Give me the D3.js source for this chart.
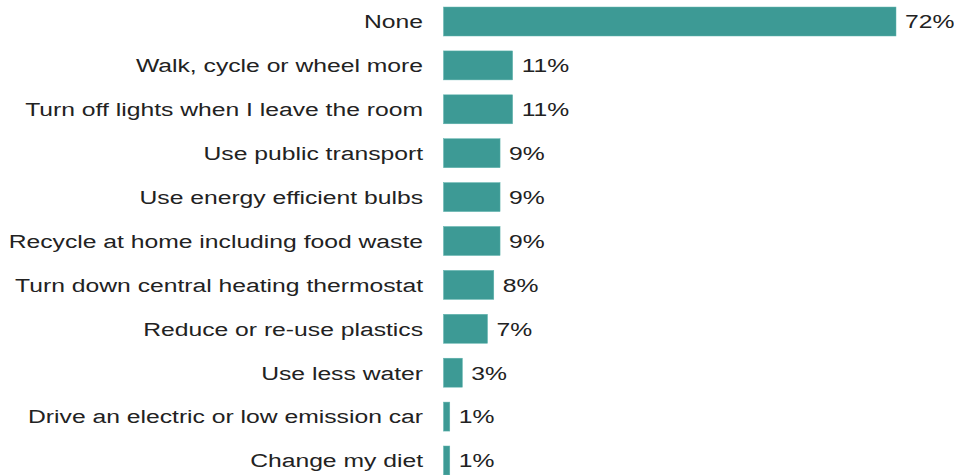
<!DOCTYPE html>
<html>
<head>
<meta charset="utf-8">
<script src="https://cdn.jsdelivr.net/npm/d3@7"></script>
<style>
  html, body { margin: 0; padding: 0; background: #fff; }
  svg { display: block; }
</style>
</head>
<body>
<svg id="chart" width="954" height="475"></svg>
<script>
// Actions taken, share of respondents (%)
const categories = [
  "None",
  "Walk, cycle or wheel more",
  "Turn off lights when I leave the room",
  "Use public transport",
  "Use energy efficient bulbs",
  "Recycle at home including food waste",
  "Turn down central heating thermostat",
  "Reduce or re-use plastics",
  "Use less water",
  "Drive an electric or low emission car",
  "Change my diet"
];
const values = [72, 11, 11, 9, 9, 9, 8, 7, 3, 1, 1];

const plotLeft = 443.5;
const svg = d3.select("#chart");

const x = d3.scaleLinear().domain([0, 72]).range([plotLeft, 896]);
const y = d3.scaleBand().domain(categories).range([0, 482]).paddingInner(0.34).paddingOuter(0.16);

const font = "'Liberation Sans', Arial, sans-serif";
const fontSize = 19;
const stretch = 1.3; // wide lettering

const rows = svg.append("g").selectAll("g").data(categories).join("g");

rows.append("rect")
  .attr("x", x(0))
  .attr("y", d => y(d))
  .attr("width", (d, i) => x(values[i]) - x(0))
  .attr("height", y.bandwidth())
  .attr("fill", "#3d9a95")
  .attr("stroke", "#5fb3ad")
  .attr("stroke-width", 0.5);

// category labels, right-aligned against the bars
rows.append("g")
  .attr("transform", d => `translate(423,${y(d) + y.bandwidth() / 2}) scale(${stretch},1)`)
  .append("text")
  .attr("dy", "0.36em")
  .attr("text-anchor", "end")
  .attr("font-family", font)
  .attr("font-size", fontSize)
  .attr("fill", "#222")
  .text(d => d);

// value labels at the end of each bar
rows.append("g")
  .attr("transform", (d, i) => `translate(${x(values[i]) + 9},${y(d) + y.bandwidth() / 2}) scale(${stretch},1)`)
  .append("text")
  .attr("dy", "0.36em")
  .attr("font-family", font)
  .attr("font-size", fontSize)
  .attr("fill", "#222")
  .text((d, i) => values[i] + "%");
</script>
</body>
</html>
